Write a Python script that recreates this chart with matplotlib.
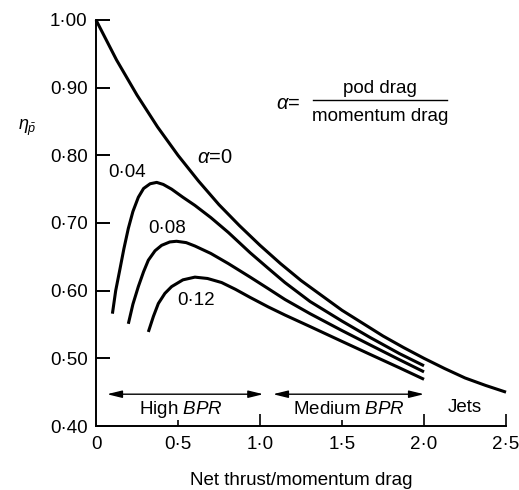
import matplotlib
matplotlib.use("Agg")
import matplotlib.pyplot as plt

plt.rcParams['font.family'] = ['Liberation Sans', 'DejaVu Sans']
plt.rcParams['mathtext.fontset'] = 'custom'
plt.rcParams['mathtext.rm'] = 'Liberation Sans'
plt.rcParams['mathtext.it'] = 'Liberation Sans:italic'

# Data
x_a0 = [0.0, 0.125, 0.25, 0.375, 0.5, 0.625, 0.75, 0.875, 1.0, 1.125, 1.25, 1.375,
        1.5, 1.625, 1.75, 1.875, 2.0, 2.125, 2.25, 2.375, 2.5]
y_a0 = [1.0, 0.941, 0.889, 0.842, 0.800, 0.762, 0.727, 0.696, 0.667, 0.640, 0.615, 0.593,
        0.571, 0.552, 0.533, 0.516, 0.500, 0.485, 0.471, 0.460, 0.450]

x_a04 = [0.10, 0.12, 0.146, 0.17, 0.197, 0.225, 0.258, 0.29, 0.33, 0.37, 0.41, 0.461,
         0.53, 0.603, 0.70, 0.807, 0.94, 1.05, 1.152, 1.305, 1.5, 1.67, 1.85, 2.0]
y_a04 = [0.566, 0.600, 0.632, 0.662, 0.692, 0.717, 0.738, 0.751, 0.758, 0.760, 0.757, 0.750,
         0.738, 0.726, 0.708, 0.686, 0.656, 0.633, 0.612, 0.584, 0.555, 0.531, 0.507, 0.489]

x_a08 = [0.197, 0.225, 0.258, 0.29, 0.319, 0.36, 0.40, 0.45, 0.491, 0.55, 0.603, 0.70,
         0.807, 0.94, 1.05, 1.152, 1.305, 1.5, 1.67, 1.85, 2.0]
y_a08 = [0.551, 0.580, 0.606, 0.628, 0.645, 0.659, 0.667, 0.672, 0.673, 0.671, 0.666, 0.655,
         0.640, 0.620, 0.603, 0.587, 0.566, 0.541, 0.520, 0.498, 0.480]

x_a12 = [0.319, 0.35, 0.38, 0.42, 0.461, 0.53, 0.603, 0.68, 0.766, 0.85, 0.94, 1.05,
         1.152, 1.305, 1.5, 1.67, 1.85, 2.0]
y_a12 = [0.539, 0.562, 0.581, 0.596, 0.606, 0.616, 0.620, 0.618, 0.612, 0.602, 0.590, 0.576,
         0.564, 0.547, 0.525, 0.506, 0.486, 0.469]

curve_labels = ['0·04', '0·08', '0·12']
x_ticks = [0, 0.5, 1.0, 1.5, 2.0, 2.5]
x_ticklabels = ['0', '0·5', '1·0', '1·5', '2·0', '2·5']
y_ticks = [0.40, 0.50, 0.60, 0.70, 0.80, 0.90, 1.00]
y_ticklabels = ['0·40', '0·50', '0·60', '0·70', '0·80', '0·90', '1·00']

fs = 13.5
fig = plt.figure(figsize=(5.19, 4.90), dpi=100)
ax = fig.add_axes([0.185, 0.1306, 0.790, 0.8286])

lw = 2.2
for xs, ys in [(x_a0, y_a0), (x_a04, y_a04), (x_a08, y_a08), (x_a12, y_a12)]:
    ax.plot(xs, ys, color='black', lw=lw, solid_capstyle='butt',
            solid_joinstyle='round', clip_on=False)

ax.set_xlim(0, 2.5)
ax.set_ylim(0.40, 1.00)
for s in ['top', 'right']:
    ax.spines[s].set_visible(False)
for s in ['left', 'bottom']:
    ax.spines[s].set_linewidth(1.4)

ax.set_yticks(y_ticks)
ax.set_yticklabels(y_ticklabels, fontsize=fs)
ax.tick_params(axis='y', direction='in', length=10, width=1.4, pad=6)
ax.set_xticks(x_ticks)
ax.set_xticklabels(x_ticklabels, fontsize=fs)
ax.tick_params(axis='x', direction='in', length=4, width=1.2, pad=7)
for t, v in zip(ax.xaxis.get_major_ticks(), x_ticks):
    if v in (1.0, 2.0, 2.5):
        t.tick1line.set_markersize(9)
    if v == 0:
        t.tick1line.set_visible(False)

ax.set_xlabel('Net thrust/momentum drag', fontsize=fs, labelpad=14)
fig.text(0.052, 0.74, r'$\eta_{\bar{p}}$', fontsize=13, ha='center', va='center')

# curve labels
ax.text(0.616, 0.797, r'$\alpha$=0', fontsize=14.5, ha='left', va='center')
ax.text(0.192, 0.774, curve_labels[0], fontsize=fs, ha='center', va='center')
ax.text(0.436, 0.692, curve_labels[1], fontsize=fs, ha='center', va='center')
ax.text(0.607, 0.586, curve_labels[2], fontsize=fs, ha='center', va='center')

# alpha definition
ax.text(1.098, 0.877, r'$\alpha$=', fontsize=14.5, ha='left', va='center')
ax.plot([1.323, 2.14], [0.8815, 0.8815], color='black', lw=1.0)
ax.text(1.732, 0.899, 'pod drag', fontsize=fs, ha='center', va='center')
ax.text(1.732, 0.857, 'momentum drag', fontsize=fs, ha='center', va='center')

# BPR ranges
arrow_kw = dict(arrowstyle='<|-|>,head_length=0.9,head_width=0.22', color='black', lw=1.0,
                shrinkA=0, shrinkB=0)
ax.annotate('', xy=(0.067, 0.447), xytext=(1.02, 0.447), arrowprops=arrow_kw)
ax.annotate('', xy=(1.079, 0.447), xytext=(2.0, 0.447), arrowprops=arrow_kw)
ax.text(0.52, 0.424, r'High $\mathit{BPR}$', fontsize=fs, ha='center', va='center')
ax.text(1.54, 0.424, r'Medium $\mathit{BPR}$', fontsize=fs, ha='center', va='center')
ax.text(2.25, 0.427, 'Jets', fontsize=fs, ha='center', va='center')

fig.savefig('out.png', dpi=100)
